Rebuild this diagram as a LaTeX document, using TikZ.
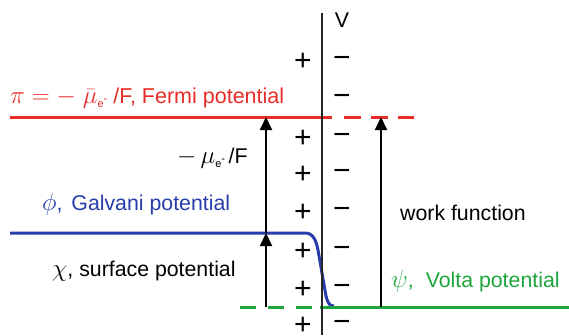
\documentclass[tikz,border=0pt]{standalone}
\usepackage{fontspec}
\setmainfont{Liberation Sans}
\usetikzlibrary{arrows.meta}
\definecolor{fred}{RGB}{232,44,40}
\definecolor{gblue}{RGB}{40,60,170}
\definecolor{vgreen}{RGB}{30,165,60}
\newcommand{\gk}[1]{{\fontsize{25}{25}\selectfont$#1$}}
\newcommand{\esub}{\raisebox{-4pt}{\fontsize{11}{11}\selectfont e\raisebox{5pt}{-}}}
\begin{document}
\begin{tikzpicture}[x=1pt,y=-1pt,
  lbl/.style={anchor=base west, inner sep=0pt, font=\fontsize{21.3}{24}\selectfont},
  sign/.style={inner sep=0pt, font=\fontsize{30}{30}\selectfont},
  arr/.style={line width=2pt, -{Triangle[length=13pt,width=12pt]}},
  potline/.style={line width=3pt}]
\useasboundingbox (0,0) rectangle (569,335);
% coordinates
\coordinate (itop) at (322,13);
\coordinate (ibot) at (322,335);
\coordinate (r0) at (10,117);
\coordinate (r1) at (332,117);
\coordinate (r2) at (344,117);
\coordinate (r3) at (414,117);
\coordinate (g0) at (240,307);
\coordinate (g1) at (312,307);
\coordinate (g2) at (320,307);
\coordinate (g3) at (569,307);
\coordinate (b0) at (10,233);
\coordinate (b1) at (305,233);
\coordinate (b2) at (334,306);
\coordinate (aLg) at (266,307);
\coordinate (aLb) at (266,233);
\coordinate (aLr) at (266,117);
\coordinate (aRg) at (381,307);
\coordinate (aRr) at (381,117);
% red line
\draw[potline, fred] (r0) -- (r1);
\draw[potline, fred, dash pattern=on 17pt off 10pt] (r2) -- (r3);
% blue line
\draw[potline, gblue] (b0) -- (b1) .. controls (313,233) and (316,240) .. (318,250) -- (326,296) .. controls (328,304) and (330,306) .. (b2);
% green line
\draw[potline, vgreen, dash pattern=on 16pt off 12pt] (g0) -- (g1);
\draw[potline, vgreen] (g2) -- (g3);
% interface
\draw[line width=2.5pt, black!85] (itop) -- (ibot);
% arrows
\draw[arr] (aLb) -- (aLr);
\draw[arr] (aLg) -- (aLb);
\draw[arr] (aRg) -- (aRr);
% signs
\foreach \y [count=\i] in {62,139,175,213,252,290,326}
  \node[sign] (p\i) at (303,\y) {+};
\foreach \y [count=\i] in {62,100,139,175,213,252,290,326}
  \node[sign] (m\i) at (342,\y) {−};
\node[lbl, anchor=base] (V) at (342,27) {V};
% labels
\node[lbl, text=fred, font=\fontsize{21.5}{24}\selectfont] (fermi) at (10,103) {\gk{\pi = -\;\bar{\mu}}\esub\ /F, Fermi potential};
\node[lbl] (mu) at (177,163) {\gk{-\,\mu}\esub\,/F};
\node[lbl, text=gblue] (galv) at (42,210) {\gk{\phi}, \hspace{3pt}Galvani potential};
\node[lbl] (chi) at (52,276) {\gk{\chi}, surface potential};
\node[lbl] (wf) at (400,220) {work function};
\node[lbl, text=vgreen] (volta) at (391,287) {\gk{\psi}, \hspace{6pt}Volta potential};
\end{tikzpicture}
\end{document}
